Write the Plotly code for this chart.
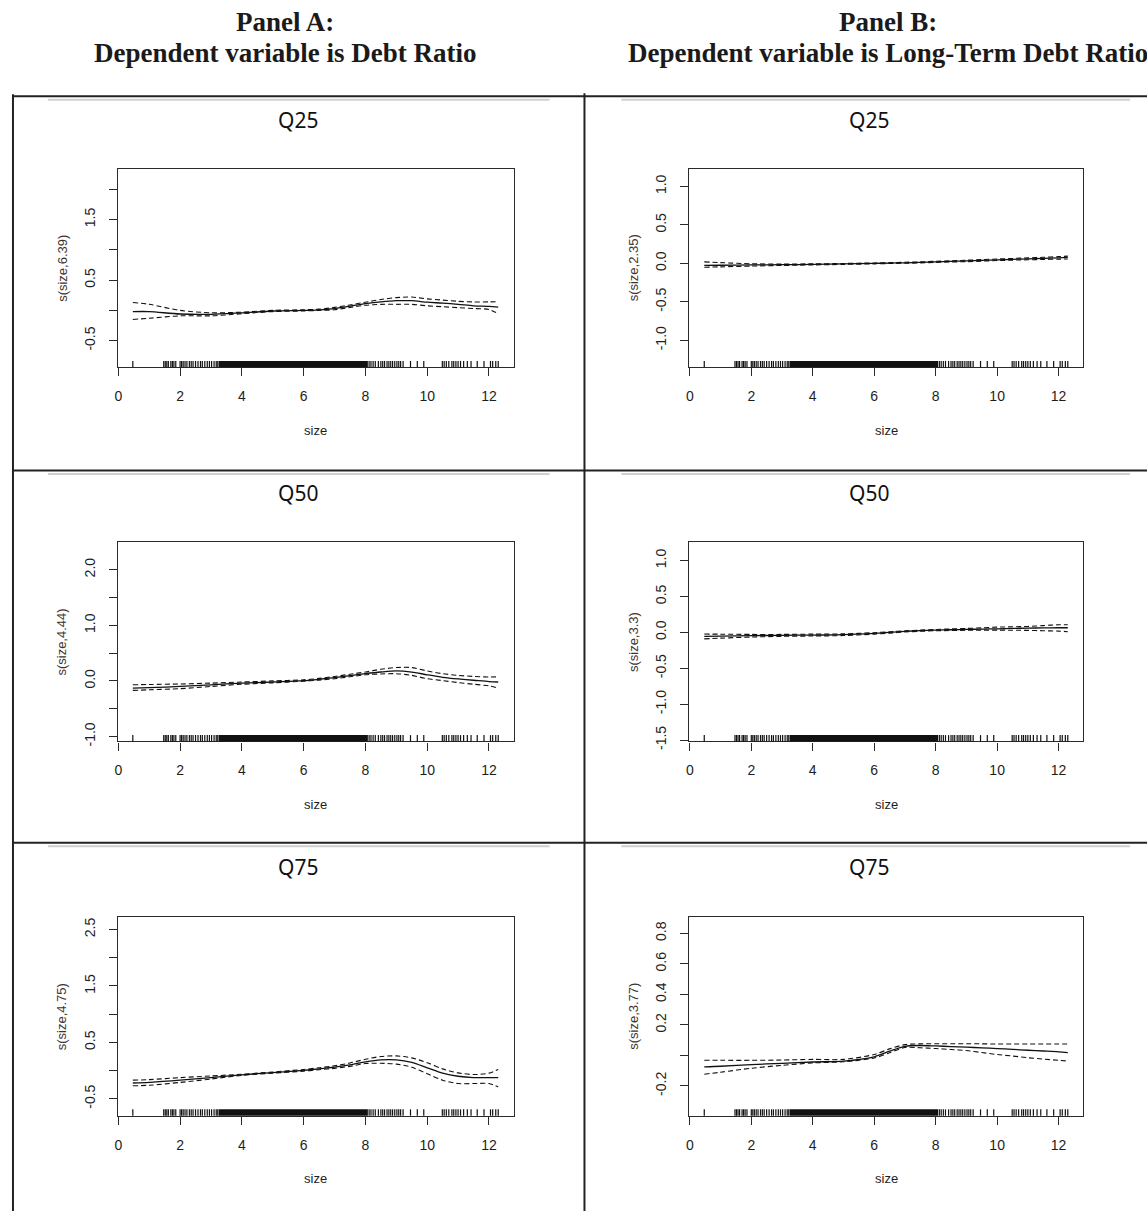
import plotly.graph_objects as go

# ---------------- data ----------------
size_grid = [0.47, 1, 2, 3, 4, 5, 6, 6.5, 7, 7.5, 8, 8.5, 9, 9.5, 10, 10.5, 11, 11.5, 12, 12.3]

# Panel A (Debt Ratio)
a25_fit = [-0.02, -0.02, -0.06, -0.065, -0.04, -0.01, 0.0, 0.01, 0.03, 0.07, 0.11, 0.14, 0.16, 0.16, 0.135, 0.12, 0.10, 0.075, 0.065, 0.055]
a25_up = [0.13, 0.10, 0.0, -0.04, -0.03, 0.0, 0.01, 0.02, 0.05, 0.09, 0.135, 0.18, 0.21, 0.22, 0.19, 0.17, 0.15, 0.14, 0.14, 0.145]
a25_lo = [-0.15, -0.13, -0.09, -0.09, -0.055, -0.02, -0.01, 0.0, 0.01, 0.05, 0.085, 0.10, 0.10, 0.10, 0.075, 0.06, 0.045, 0.03, 0.015, -0.055]

a50_fit = [-0.13, -0.12, -0.10, -0.07, -0.04, -0.02, 0.005, 0.03, 0.06, 0.095, 0.13, 0.16, 0.18, 0.16, 0.11, 0.065, 0.035, 0.012, -0.012, -0.02]
a50_up = [-0.07, -0.065, -0.055, -0.04, -0.02, 0.0, 0.02, 0.045, 0.08, 0.12, 0.16, 0.21, 0.24, 0.24, 0.18, 0.13, 0.10, 0.08, 0.07, 0.075]
a50_lo = [-0.17, -0.16, -0.14, -0.10, -0.06, -0.035, -0.005, 0.015, 0.04, 0.075, 0.11, 0.125, 0.13, 0.10, 0.04, 0.005, -0.03, -0.06, -0.09, -0.13]

a75_fit = [-0.22, -0.21, -0.17, -0.125, -0.075, -0.035, 0.005, 0.03, 0.06, 0.10, 0.155, 0.19, 0.19, 0.145, 0.05, -0.045, -0.10, -0.125, -0.125, -0.125]
a75_up = [-0.17, -0.16, -0.125, -0.095, -0.065, -0.025, 0.02, 0.05, 0.085, 0.135, 0.20, 0.25, 0.26, 0.225, 0.14, 0.03, -0.04, -0.07, -0.045, 0.02]
a75_lo = [-0.27, -0.26, -0.21, -0.15, -0.085, -0.045, -0.01, 0.015, 0.04, 0.075, 0.125, 0.13, 0.115, 0.06, -0.055, -0.17, -0.23, -0.23, -0.23, -0.29]

# Panel B (Long-Term Debt Ratio)
b25_fit = [-0.025, -0.024, -0.02, -0.017, -0.013, -0.007, 0.0, 0.004, 0.008, 0.013, 0.02, 0.026, 0.032, 0.039, 0.047, 0.053, 0.06, 0.066, 0.073, 0.077]
b25_up = [0.02, 0.01, -0.005, -0.008, -0.006, -0.001, 0.006, 0.01, 0.015, 0.02, 0.027, 0.034, 0.041, 0.049, 0.057, 0.064, 0.072, 0.079, 0.088, 0.094]
b25_lo = [-0.05, -0.045, -0.035, -0.027, -0.02, -0.013, -0.006, -0.002, 0.002, 0.006, 0.013, 0.018, 0.023, 0.029, 0.037, 0.042, 0.047, 0.051, 0.055, 0.057]

b50_fit = [-0.055, -0.052, -0.045, -0.041, -0.037, -0.032, -0.014, 0.0, 0.014, 0.024, 0.032, 0.037, 0.042, 0.046, 0.05, 0.055, 0.06, 0.063, 0.065, 0.065]
b50_up = [-0.023, -0.025, -0.028, -0.028, -0.024, -0.02, -0.004, 0.009, 0.022, 0.032, 0.041, 0.048, 0.055, 0.064, 0.074, 0.078, 0.083, 0.095, 0.106, 0.106]
b50_lo = [-0.09, -0.08, -0.065, -0.055, -0.05, -0.044, -0.024, -0.01, 0.006, 0.016, 0.023, 0.027, 0.03, 0.031, 0.032, 0.03, 0.028, 0.023, 0.018, 0.01]

b75_fit = [-0.075, -0.071, -0.06, -0.052, -0.043, -0.037, -0.009, 0.028, 0.06, 0.065, 0.062, 0.058, 0.054, 0.05, 0.045, 0.04, 0.034, 0.029, 0.024, 0.019]
b75_up = [-0.032, -0.032, -0.032, -0.03, -0.026, -0.026, 0.006, 0.043, 0.071, 0.076, 0.077, 0.077, 0.077, 0.076, 0.075, 0.075, 0.075, 0.075, 0.075, 0.075]
b75_lo = [-0.123, -0.11, -0.084, -0.065, -0.049, -0.041, -0.017, 0.017, 0.052, 0.05, 0.045, 0.039, 0.032, 0.019, 0.006, -0.004, -0.015, -0.024, -0.032, -0.037]

# rug of observed firm sizes (sparse ticks + densely covered interval)
rug_sparse = [0.47,
              1.47, 1.52, 1.57, 1.62, 1.70, 1.75, 1.80, 1.86,
              2.00, 2.05, 2.10, 2.16, 2.22, 2.30, 2.36, 2.42, 2.50, 2.58, 2.66, 2.72,
              2.80, 2.88, 2.95, 3.02, 3.10, 3.17, 3.22,
              8.12, 8.18, 8.25, 8.32, 8.42, 8.50, 8.56, 8.62, 8.70, 8.76, 8.82, 8.88,
              8.95, 9.02, 9.08, 9.14, 9.22,
              9.46, 9.68, 9.89,
              10.49, 10.55, 10.62, 10.70, 10.80, 10.86, 10.93, 11.00, 11.08, 11.18,
              11.30, 11.42, 11.62, 11.84, 12.05, 12.12, 12.22, 12.30]
rug_dense = [3.25, 8.08]

x_ticks = [0, 2, 4, 6, 8, 10, 12]
x_ticktext = ["0", "2", "4", "6", "8", "10", "12"]

panel_titles = ["Q25", "Q25", "Q50", "Q50", "Q75", "Q75"]
y_titles = ["s(size,6.39)", "s(size,2.35)", "s(size,4.44)", "s(size,3.3)", "s(size,4.75)", "s(size,3.77)"]
y_ranges = [[-0.94, 2.34], [-1.35, 1.23], [-1.09, 2.5], [-1.52, 1.26], [-0.80, 2.72], [-0.395, 0.906]]
y_tickvals = [[-0.5, 0, 0.5, 1, 1.5, 2],
              [-1, -0.5, 0, 0.5, 1],
              [-1, -0.5, 0, 0.5, 1, 1.5, 2],
              [-1.5, -1, -0.5, 0, 0.5, 1],
              [-0.5, 0, 0.5, 1, 1.5, 2, 2.5],
              [-0.2, 0, 0.2, 0.4, 0.6, 0.8]]
y_ticktext = [["-0.5", "", "0.5", "", "1.5", ""],
              ["-1.0", "-0.5", "0.0", "0.5", "1.0"],
              ["-1.0", "", "0.0", "", "1.0", "", "2.0"],
              ["-1.5", "-1.0", "-0.5", "0.0", "0.5", "1.0"],
              ["-0.5", "", "0.5", "", "1.5", "", "2.5"],
              ["-0.2", "", "0.2", "0.4", "0.6", "0.8"]]
fits = [a25_fit, b25_fit, a50_fit, b50_fit, a75_fit, b75_fit]
uppers = [a25_up, b25_up, a50_up, b50_up, a75_up, b75_up]
lowers = [a25_lo, b25_lo, a50_lo, b50_lo, a75_lo, b75_lo]

header_a = ["Panel A:", "Dependent variable is Debt Ratio"]
header_b = ["Panel B:", "Dependent variable is Long-Term Debt Ratio"]

# ---------------- layout (pixel geometry) ----------------
W, H = 1147, 1220
col_px = [(115, 512), (688, 1083)]
row_px = [(170, 370), (546, 747), (924, 1124)]
row_title_y = [121, 497, 873]
col_center = [296, 868]
row_top_lines = [97, 474, 849]
gray_spans = [(45, 548), (620, 1130)]

def px(xp):
    return xp / W

def py(yp):
    return 1 - yp / H

AX = "#2a2a2a"
TXT = "#1e1e1e"
TFONT = "Liberation Sans, Arial, sans-serif"

fig = go.Figure()
shapes = []
annotations = []
layout_axes = {}

for k in range(6):
    r, c = divmod(k, 2)
    idx = "" if k == 0 else str(k + 1)
    xa, ya = "x" + idx, "y" + idx
    for ys, dash, w in [(uppers[k], "5px,3px", 1.1), (lowers[k], "5px,3px", 1.1), (fits[k], "solid", 1.3)]:
        fig.add_trace(go.Scatter(x=size_grid, y=ys, mode="lines", xaxis=xa, yaxis=ya,
                                 line=dict(color="#111111", width=w, dash=dash, shape="spline", smoothing=0.8),
                                 showlegend=False, hoverinfo="skip"))
    x0, x1 = col_px[c]
    yt, yb = row_px[r]
    layout_axes["xaxis" + idx] = dict(
        domain=[px(x0), px(x1)], anchor=ya, range=[-0.02, 12.8],
        tickvals=x_ticks, ticktext=x_ticktext, ticks="outside", ticklen=8, tickwidth=1,
        tickcolor=AX, showline=True, mirror=True, linecolor=AX, linewidth=1.3,
        showgrid=False, zeroline=False, ticklabelstandoff=8,
        tickfont=dict(family=TFONT, size=14, color=TXT), fixedrange=True)
    layout_axes["yaxis" + idx] = dict(
        domain=[py(yb), py(yt)], anchor=xa, range=y_ranges[k],
        tickvals=y_tickvals[k], ticktext=y_ticktext[k], ticks="outside", ticklen=8, tickwidth=1,
        tickcolor=AX, showline=True, mirror=True, linecolor=AX, linewidth=1.3,
        showgrid=False, zeroline=False, tickangle=-90, ticklabelstandoff=8,
        tickfont=dict(family=TFONT, size=14, color=TXT), fixedrange=True)

    # rug
    for v in rug_sparse:
        shapes.append(dict(type="line", xref=xa, yref=ya + " domain", x0=v, x1=v, y0=0, y1=0.032,
                           line=dict(color="#111111", width=1.2)))
    shapes.append(dict(type="rect", xref=xa, yref=ya + " domain", x0=rug_dense[0], x1=rug_dense[1],
                       y0=0, y1=0.032, line=dict(width=0), fillcolor="#111111"))

    # axis titles
    annotations.append(dict(text="size", xref=xa + " domain", yref=ya + " domain", x=0.5, y=0,
                            yshift=-63, showarrow=False, yanchor="middle",
                            font=dict(family=TFONT, size=13, color=TXT)))
    annotations.append(dict(text=y_titles[k], xref=xa + " domain", yref=ya + " domain",
                            x=-56 / (x1 - x0), y=0.5, textangle=-90, showarrow=False, xanchor="center",
                            font=dict(family=TFONT, size=13, color="#3d3430")))
    # panel quantile title
    annotations.append(dict(text=panel_titles[k], xref="paper", yref="paper", x=px(col_center[c]),
                            y=py(row_title_y[r]), showarrow=False, xanchor="center", yanchor="middle",
                            font=dict(family="Noto Sans, Open Sans, sans-serif", size=21, color="#111111")))

# table borders
for yl in row_top_lines:
    shapes.append(dict(type="line", xref="paper", yref="paper", x0=px(10), x1=px(W), y0=py(yl), y1=py(yl),
                       line=dict(color="#222222", width=2)))
    for gx0, gx1 in gray_spans:
        shapes.append(dict(type="line", xref="paper", yref="paper", x0=px(gx0), x1=px(gx1),
                           y0=py(yl + 3.5), y1=py(yl + 3.5), line=dict(color="#cfcfcf", width=2)))
shapes.append(dict(type="line", xref="paper", yref="paper", x0=px(10), x1=px(10), y0=py(95), y1=py(H),
                   line=dict(color="#222222", width=2)))
shapes.append(dict(type="line", xref="paper", yref="paper", x0=px(583), x1=px(583), y0=py(94), y1=py(H),
                   line=dict(color="#222222", width=2)))

# headers
for lines, cx in [(header_a, 283), (header_b, 887)]:
    for txt, yy in zip(lines, [22, 53]):
        annotations.append(dict(text="<b>" + txt + "</b>", xref="paper", yref="paper", x=px(cx), y=py(yy),
                                showarrow=False, xanchor="center", yanchor="middle",
                                font=dict(family="Liberation Serif, Times New Roman, serif", size=27,
                                          color="#1a1a1a")))

fig.update_layout(width=W, height=H, margin=dict(l=0, r=0, t=0, b=0),
                  paper_bgcolor="white", plot_bgcolor="white",
                  shapes=shapes, annotations=annotations, **layout_axes)

fig.write_html("out.html", config={"displayModeBar": False},
               post_script="document.body.style.margin='0';document.body.style.overflow='hidden';")
